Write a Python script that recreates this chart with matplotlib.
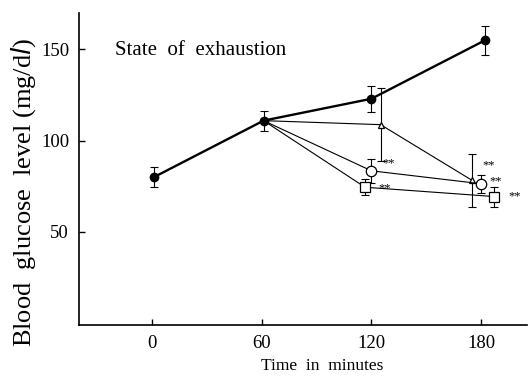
import numpy as np
import matplotlib.pyplot as plt

plt.rcParams['font.family'] = ['Liberation Serif', 'DejaVu Serif']

# control group (filled circles)
t_ctrl = [1, 61, 120, 182]
glu_ctrl = [80, 111, 123, 155]
sd_ctrl = [5.5, 5.5, 7, 8]

# treated groups, branching off the control curve at 60 min
t_tri = [61, 125, 175]
glu_tri = [111, 108.8, 78.3]
sd_tri = [0, 20, 14.6]

t_circ = [61, 120, 180]
glu_circ = [111, 83.5, 76.4]
sd_circ = [0, 6.5, 5]

t_sq = [61, 116.5, 187]
glu_sq = [111, 74.5, 69.4]
sd_sq = [0, 4.5, 5.5]

# significance marks: (series, point index, dx px, dy px)
stars = [('circ', 1, 11, -7), ('sq', 1, 13, 1), ('tri', 2, 10, -15),
         ('circ', 2, 8, -2), ('sq', 2, 14, 0)]

fig = plt.figure(figsize=(5.29, 3.77), dpi=100)
ax = fig.add_axes([0.149, 0.138, 0.847, 0.8275])

ekw = dict(fmt='none', ecolor='k', capsize=3, elinewidth=0.8, capthick=0.8)

groups = {'tri': (t_tri, glu_tri, sd_tri, '^', 5),
          'circ': (t_circ, glu_circ, sd_circ, 'o', 7.5),
          'sq': (t_sq, glu_sq, sd_sq, 's', 6.5)}
for name, (tx, ty, ts, mk, ms) in groups.items():
    ax.plot(tx, ty, color='k', lw=0.8, marker=mk, ms=ms, mfc='w', mec='k',
            mew=0.9, markevery=[1, 2], zorder=3)
    ax.errorbar(tx[1:], ty[1:], yerr=ts[1:], zorder=2, **ekw)

ax.errorbar(t_ctrl, glu_ctrl, yerr=sd_ctrl, zorder=2, **ekw)
ax.plot(t_ctrl, glu_ctrl, color='k', lw=1.7, marker='o', ms=6, mfc='k',
        mec='k', zorder=4)

for name, i, dx, dy in stars:
    tx, ty = groups[name][0], groups[name][1]
    ax.annotate('**', xy=(tx[i], ty[i]), xytext=(dx * 0.72, -dy * 0.72),
                textcoords='offset points', fontsize=9,
                ha='left', va='center')

ax.set_xlim(-40, 205)
ax.set_ylim(-1, 170)
ax.set_xticks([0, 60, 120, 180])
ax.set_yticks([50, 100, 150])
ax.tick_params(direction='in', length=4, width=1, labelsize=13.5, pad=7)
ax.spines['top'].set_visible(False)
ax.spines['right'].set_visible(False)
ax.spines['left'].set_linewidth(1.2)
ax.spines['bottom'].set_linewidth(1.2)

fig.text(322 / 529, 1 - 366 / 377, 'Time  in  minutes', fontsize=12.5,
         ha='center', va='center')
fig.text(0.044, 0.49, 'Blood  glucose  level (mg/d$\\mathit{l}$)', rotation=90,
         fontsize=19, ha='center', va='center')
ax.text(0.08, 0.88, 'State  of  exhaustion', transform=ax.transAxes,
        fontsize=15, ha='left', va='center')

fig.savefig('out.png', dpi=100)
